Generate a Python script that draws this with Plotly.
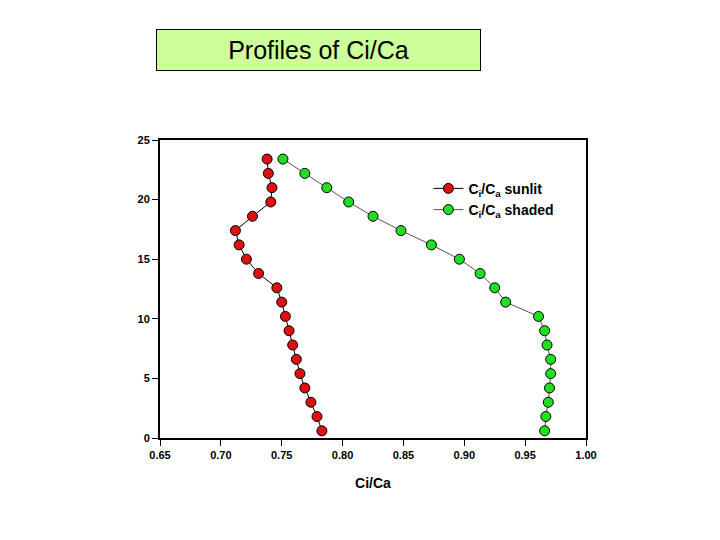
import plotly.graph_objects as go

heights = [0.6, 1.8, 3.0, 4.2, 5.4, 6.6, 7.8, 9.0, 10.2, 11.4, 12.6, 13.8,
           15.0, 16.2, 17.4, 18.6, 19.8, 21.0, 22.2, 23.4]
ci_ca_sunlit = [0.783, 0.779, 0.774, 0.769, 0.765, 0.762, 0.759, 0.756, 0.753, 0.750,
                0.746, 0.731, 0.721, 0.715, 0.712, 0.726, 0.741, 0.742, 0.739, 0.738]
ci_ca_shaded = [0.966, 0.967, 0.969, 0.970, 0.971, 0.971, 0.968, 0.966, 0.961, 0.934,
                0.925, 0.913, 0.896, 0.873, 0.848, 0.825, 0.805, 0.787, 0.769, 0.751]
x_ticks = [0.65, 0.70, 0.75, 0.80, 0.85, 0.90, 0.95, 1.00]
y_ticks = [0, 5, 10, 15, 20, 25]

fig = go.Figure()
fig.add_trace(go.Scatter(
    x=ci_ca_sunlit, y=heights, mode="lines+markers",
    name="<b>C<sub>i</sub>/C<sub>a</sub> sunlit</b>",
    line=dict(color="#000000", width=1),
    marker=dict(color="#dd1111", size=10, line=dict(color="#000000", width=1)),
))
fig.add_trace(go.Scatter(
    x=ci_ca_shaded, y=heights, mode="lines+markers",
    name="<b>C<sub>i</sub>/C<sub>a</sub> shaded</b>",
    line=dict(color="#555555", width=1),
    marker=dict(color="#22dd22", size=10, line=dict(color="#000000", width=1)),
))

axis_common = dict(showline=True, linecolor="#000000", linewidth=2, mirror=True,
                   ticks="outside", ticklen=6, tickwidth=1, tickcolor="#000000",
                   showgrid=False, zeroline=False,
                   tickfont=dict(family="Arial, Liberation Sans", size=11, color="#000000"))

fig.update_xaxes(range=[0.65, 1.00], tickvals=x_ticks,
                 ticktext=[f"<b>{v:.2f}</b>" for v in x_ticks],
                 title=dict(text="<b>Ci/Ca</b>", font=dict(family="Arial, Liberation Sans", size=14, color="#000000"),
                            standoff=18),
                 **axis_common)
fig.update_yaxes(range=[0, 25], tickvals=y_ticks,
                 ticktext=[f"<b>{v}</b>" for v in y_ticks],
                 **axis_common)

fig.add_annotation(
    xref="paper", yref="paper", x=(318 - 160) / 426, y=(437.7 - 51) / 297.2,
    text="Profiles of Ci/Ca", showarrow=False,
    font=dict(family="Arial, Liberation Sans", size=25, color="#000000"),
    bgcolor="#ccff99", bordercolor="#000000", borderwidth=1,
    width=321, height=38, xanchor="center", yanchor="middle",
)

fig.update_layout(
    width=720, height=540,
    margin=dict(l=160, r=134, t=140, b=102),
    paper_bgcolor="#ffffff", plot_bgcolor="#ffffff",
    legend=dict(x=0.63, y=0.89, xanchor="left", yanchor="top",
                bgcolor="rgba(0,0,0,0)",
                font=dict(family="Arial, Liberation Sans", size=14, color="#000000"),
                tracegroupgap=2, itemwidth=30),
    showlegend=True,
)

fig.write_html("out.html")
